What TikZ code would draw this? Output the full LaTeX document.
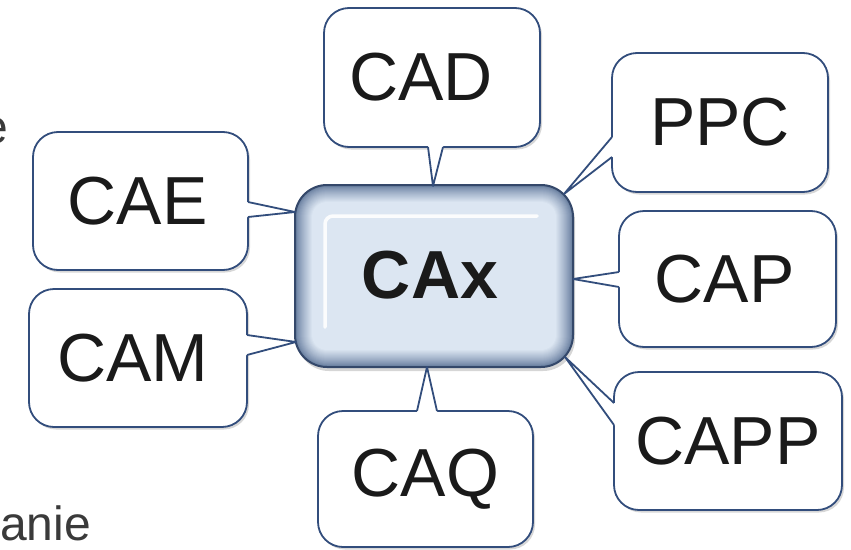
\documentclass[tikz,border=0pt]{standalone}
\usepackage{fontspec}
\setmainfont{Liberation Sans}
\usetikzlibrary{calc,shadows}

\definecolor{boxline}{HTML}{324D7C}
\definecolor{capedge}{HTML}{62799C}
\definecolor{capface}{HTML}{DCE6F2}
\definecolor{capline}{HTML}{34486A}
\definecolor{inktext}{HTML}{1A1A1A}
\definecolor{sidetext}{HTML}{3A3A3A}

\tikzset{
  callout box/.style={draw=boxline, line width=1.8pt, fill=white,
    rounded corners=25pt, inner sep=0pt, outer sep=0pt, text=inktext,
    font=\fontsize{68}{70}\selectfont,
    drop shadow={shadow xshift=2pt, shadow yshift=-2.5pt, opacity=0.22, fill=black!70}},
  tail line/.style={draw=boxline, line width=1.8pt, line join=round},
  side text/.style={text=sidetext, font=\fontsize{48}{50}\selectfont, inner sep=0pt},
}

% speech-bubble tail: base point, tip, base point, shift into the bubble
\newcommand{\drawtail}[4]{%
  \fill[white] ($(#1)+(#4)$) -- (#1) -- (#2) -- (#3) -- ($(#3)+(#4)$) -- cycle;
  \draw[tail line] (#1) -- (#2) -- (#3);
}
% invisible strut that pushes a label off-centre
\newcommand{\padright}[1]{\rule{#1}{0pt}}

\begin{document}
\begin{tikzpicture}[x=1pt,y=-1pt]
\useasboundingbox (0,0) rectangle (851,549);
\fill[white] (0,0) rectangle (851,549);

% words at the left edge
\begin{scope}
  \clip (0,0) rectangle (851,549);
  \node[side text, anchor=base east] (sidee) at (8.5,143) {e};
  \node[side text, anchor=base west] (sideanie) at (0,540) {anie};
\end{scope}

% surrounding bubbles
\node[callout box, minimum width=216pt, minimum height=139pt] (cad)  at (432,77.5)  {CAD\padright{22pt}};
\node[callout box, minimum width=216pt, minimum height=139pt] (ppc)  at (720,122.5) {PPC};
\node[callout box, minimum width=217pt, minimum height=136pt] (cap)  at (727.5,279) {CAP\padright{6pt}};
\node[callout box, minimum width=228pt, minimum height=138pt] (capp) at (728,441)   {CAPP};
\node[callout box, minimum width=215pt, minimum height=136pt] (caq)  at (425.5,479) {CAQ};
\node[callout box, minimum width=218pt, minimum height=138pt] (cam)  at (138,358)   {CAM\padright{10pt}};
\node[callout box, minimum width=215pt, minimum height=138pt] (cae)  at (140.5,201) {CAE\padright{6pt}};

% central bevelled button
\node[minimum width=278pt, minimum height=182pt, inner sep=0pt, outer sep=0pt] (cax) at (434,276) {};
\fill[black, opacity=0.16, rounded corners=32pt]
  ($(cax.north west)+(2,4)$) rectangle ($(cax.south east)+(2,4)$);
\foreach \d in {0,...,18}{
  \pgfmathtruncatemacro\p{min(100,100*(\d/17)^0.8)}
  \pgfmathsetmacro\r{max(32-\d,10)}
  \fill[capface!\p!capedge, rounded corners=\r pt]
    ($(cax.north west)+(\d,\d)$) rectangle ($(cax.south east)+(-\d,-\d)$);
}
\draw[white, line width=3.5pt, line cap=round, rounded corners=8pt, opacity=0.9]
  ($(cax.south west)+(30,-40)$) |- ($(cax.north east)+(-36,31)$);
\draw[capline, line width=2pt, rounded corners=32pt]
  (cax.north west) rectangle (cax.south east);
\node[font=\bfseries\fontsize{68}{70}\selectfont, text=inktext, inner sep=0pt] (caxlabel)
  at ($(cax.center)+(-4,-1)$) {CAx};

% tail anchor points
\coordinate (cae-a) at ($(cae.east)+(0,1)$);
\coordinate (cae-b) at ($(cae.east)+(0,16)$);
\coordinate (cae-t) at ($(cax.west)+(0,-64)$);
\coordinate (cam-a) at ($(cam.east)+(0,-23)$);
\coordinate (cam-b) at ($(cam.east)+(0,-3)$);
\coordinate (cam-t) at ($(cax.west)+(1,66)$);
\coordinate (cad-a) at ($(cad.south)+(-4,0)$);
\coordinate (cad-b) at ($(cad.south)+(11,0)$);
\coordinate (cad-t) at ($(cax.north)+(-1,1)$);
\coordinate (caq-a) at ($(caq.north)+(-8.5,0)$);
\coordinate (caq-b) at ($(caq.north)+(11.5,0)$);
\coordinate (caq-t) at ($(cax.south)+(-7,0)$);
\coordinate (ppc-a) at ($(ppc.west)+(0,14.5)$);
\coordinate (ppc-b) at ($(ppc.west)+(0,34.5)$);
\coordinate (ppc-t) at ($(cax.north east)+(-9,9)$);
\coordinate (cap-a) at ($(cap.west)+(0,-7)$);
\coordinate (cap-b) at ($(cap.west)+(0,8)$);
\coordinate (cap-t) at ($(cax.east)+(0,3)$);
\coordinate (capp-a) at ($(capp.west)+(0,-38)$);
\coordinate (capp-b) at ($(capp.west)+(0,-16)$);
\coordinate (capp-t) at ($(cax.south east)+(-8,-10)$);

% tails joining each bubble to the central button
\drawtail{cae-a}{cae-t}{cae-b}{-3,0}
\drawtail{cam-a}{cam-t}{cam-b}{-3,0}
\drawtail{cad-a}{cad-t}{cad-b}{0,-3}
\drawtail{caq-a}{caq-t}{caq-b}{0,3}
\drawtail{ppc-a}{ppc-t}{ppc-b}{3,0}
\drawtail{cap-a}{cap-t}{cap-b}{3,0}
\drawtail{capp-a}{capp-t}{capp-b}{3,0}
\end{tikzpicture}
\end{document}
